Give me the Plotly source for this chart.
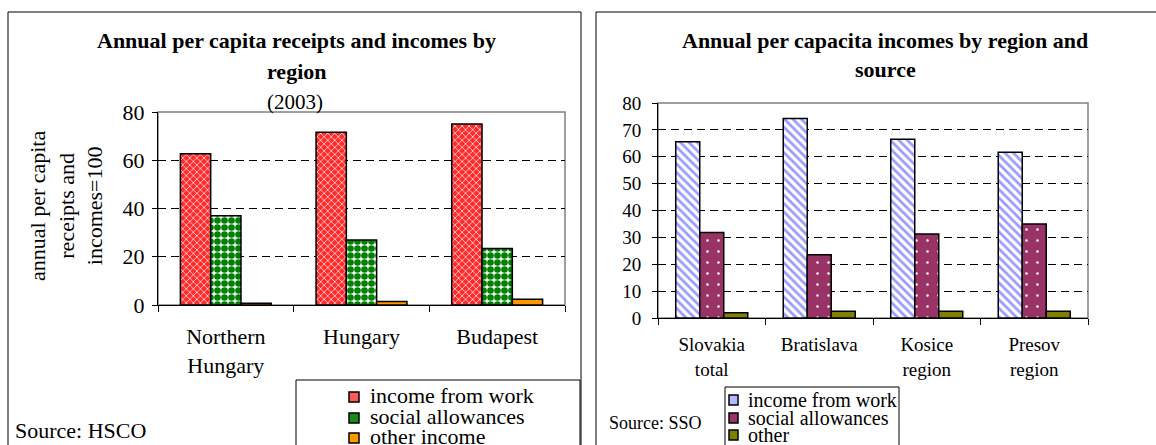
import plotly.graph_objects as go

W, H = 1156, 445

# left chart: Hungary (HSCO)
hu_regions = ['Northern<br>Hungary', 'Hungary', 'Budapest']
hu_series = ['income from work', 'social allowances', 'other income']
hu_work = [62.7, 71.6, 75.0]
hu_social = [37.0, 26.9, 23.4]
hu_other = [0.7, 1.5, 2.4]
hu_ticks = [0, 20, 40, 60, 80]

# right chart: Slovakia (SSO)
sk_regions = ['Slovakia<br>total', 'Bratislava', 'Kosice<br>region', 'Presov<br>region']
sk_series = ['income from work', 'social allowances', 'other']
sk_work = [65.6, 74.2, 66.5, 61.7]
sk_social = [31.8, 23.5, 31.3, 35.0]
sk_other = [2.0, 2.5, 2.5, 2.5]
sk_ticks = [0, 10, 20, 30, 40, 50, 60, 70, 80]

FONT = 'Liberation Serif'


def px(x):
    return x / W


def py(y):
    return 1 - y / H


outline = dict(color='black', width=1.5)

fig = go.Figure()

# --- left chart
fig.add_trace(go.Bar(
    x=hu_regions, y=hu_work, name=hu_series[0], xaxis='x', yaxis='y',
    marker=dict(color='#FF2A2A', line=outline,
                pattern=dict(shape='x', fgcolor='white', bgcolor='#FF2A2A',
                             size=5, solidity=0.25))
))
fig.add_trace(go.Bar(
    x=hu_regions, y=hu_social, name=hu_series[1], xaxis='x', yaxis='y',
    marker=dict(color='#008000', line=outline,
                pattern=dict(shape='.', fgcolor='#008000', bgcolor='white',
                             size=7, solidity=0.7))
))
fig.add_trace(go.Bar(
    x=hu_regions, y=hu_other, name=hu_series[2], xaxis='x', yaxis='y',
    marker=dict(color='#FF9900', line=outline)
))

# --- right chart
fig.add_trace(go.Bar(
    x=sk_regions, y=sk_work, name=sk_series[0], xaxis='x2', yaxis='y2',
    marker=dict(color='#9999FF', line=outline,
                pattern=dict(shape='\\', fgcolor='#9999FF', bgcolor='white',
                             size=6, solidity=0.45))
))
fig.add_trace(go.Bar(
    x=sk_regions, y=sk_social, name=sk_series[1], xaxis='x2', yaxis='y2',
    marker=dict(color='#993366', line=outline,
                pattern=dict(shape='.', fgcolor='white', bgcolor='#993366',
                             size=11, solidity=0.04))
))
fig.add_trace(go.Bar(
    x=sk_regions, y=sk_other, name=sk_series[2], xaxis='x2', yaxis='y2',
    marker=dict(color='#808000', line=outline)
))

xcommon = dict(type='category', tickson='boundaries', ticks='outside', ticklen=6,
               tickcolor='black', showline=True, linecolor='black', linewidth=1,
               showgrid=False, automargin=False, fixedrange=True)
ycommon = dict(ticks='outside', ticklen=5, tickcolor='black', showline=True,
               linecolor='black', linewidth=1, showgrid=True, gridcolor='black',
               griddash='8px,5px', gridwidth=1, zeroline=False, automargin=False,
               fixedrange=True)

fig.update_layout(
    width=W, height=H,
    template='none',
    margin=dict(l=0, r=0, t=0, b=0),
    paper_bgcolor='white', plot_bgcolor='white',
    font=dict(family=FONT, color='black'),
    barmode='group', bargap=0.33, bargroupgap=0,
    showlegend=False,
    xaxis=dict(xcommon, domain=[px(158), px(565)], anchor='y',
               tickfont=dict(size=22), ticklabelstandoff=12),
    yaxis=dict(ycommon, domain=[py(305), py(112)], anchor='x', range=[0, 80],
               tickvals=hu_ticks, tickfont=dict(size=22), ticklabelstandoff=3),
    xaxis2=dict(xcommon, domain=[px(658), px(1088)], anchor='y2',
                tickfont=dict(size=19), ticklabelstandoff=9),
    yaxis2=dict(ycommon, domain=[py(318), py(103)], anchor='x2', range=[0, 80],
                tickvals=sk_ticks, tickfont=dict(size=19), ticklabelstandoff=7),
)

# frames, plot-area borders and legend boxes
shapes = [
    dict(type='rect', xref='paper', yref='paper', x0=px(8), x1=px(581), y0=py(470), y1=py(12),
         line=dict(color='black', width=1), layer='above'),
    dict(type='rect', xref='paper', yref='paper', x0=px(596), x1=px(1180), y0=py(470), y1=py(12),
         line=dict(color='black', width=1), layer='above'),
    dict(type='rect', xref='x domain', yref='y domain', x0=0, x1=1, y0=0, y1=1,
         line=dict(color='#808080', width=1.5), layer='below'),
    dict(type='rect', xref='x2 domain', yref='y2 domain', x0=0, x1=1, y0=0, y1=1,
         line=dict(color='#808080', width=1.5), layer='below'),
    dict(type='rect', xref='paper', yref='paper', x0=px(296), x1=px(580), y0=py(470), y1=py(380),
         line=dict(color='black', width=1), layer='above'),
    dict(type='rect', xref='paper', yref='paper', x0=px(725), x1=px(899), y0=py(470), y1=py(387),
         line=dict(color='black', width=1), layer='above'),
]

# legend keys drawn by hand so the rows can run off the bottom like the original
hu_key_colors = ['#FF5A5A', '#1A8A1A', '#FF9900']
sk_key_colors = ['#B8B8FF', '#993366', '#808000']
hu_rows = [397, 418, 438]
sk_rows = [400, 418, 435]
for color, row in zip(hu_key_colors, hu_rows):
    shapes.append(dict(type='rect', xref='paper', yref='paper',
                       x0=px(349), x1=px(359), y0=py(row + 5), y1=py(row - 5),
                       fillcolor=color, line=dict(color='black', width=1.5), layer='above'))
for color, row in zip(sk_key_colors, sk_rows):
    shapes.append(dict(type='rect', xref='paper', yref='paper',
                       x0=px(729), x1=px(738), y0=py(row + 5), y1=py(row - 5),
                       fillcolor=color, line=dict(color='black', width=1.5), layer='above'))
fig.update_layout(shapes=shapes)


def note(text, x, y, size, xanchor='center', angle=0):
    fig.add_annotation(text=text, x=px(x), y=py(y), xref='paper', yref='paper',
                       xanchor=xanchor, yanchor='middle', showarrow=False,
                       textangle=angle, font=dict(size=size, family=FONT, color='black'))


note('<b>Annual per capita receipts and incomes by</b>', 296, 40, 22)
note('<b>region</b>', 296, 71, 22)
note('(2003)', 295, 102, 21)
note('annual per capita<br>receipts and<br>incomes=100', 66, 206, 22, angle=-90)
note('Source: HSCO', 13, 430, 22, xanchor='left')
for label, row in zip(hu_series, hu_rows):
    note(label, 368, row - 1.5, 22, xanchor='left')

note('<b>Annual per capacita incomes by region and</b>', 885, 40, 22)
note('<b>source</b>', 885, 69, 22)
note('Source: SSO', 607, 423, 18, xanchor='left')
for label, row in zip(sk_series, sk_rows):
    note(label, 746, row - 0.5, 20, xanchor='left')

# keep the page exactly the size of the figure (no body margin, no overflow)
page_fit = (
    "document.documentElement.style.overflow = 'hidden';"
    "document.body.style.margin = '0';"
    "document.body.style.height = '445px';"
    "document.body.style.overflow = 'hidden';"
)
fig.write_html("out.html", config={'displayModeBar': False}, post_script=page_fit)
